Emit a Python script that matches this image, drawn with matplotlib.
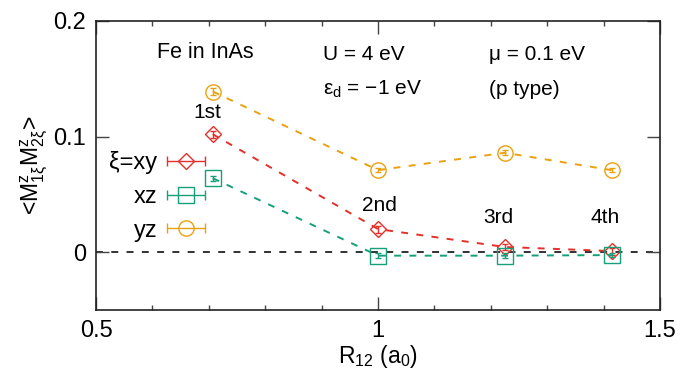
import matplotlib
matplotlib.use("Agg")
import matplotlib.pyplot as plt
from matplotlib.lines import Line2D
from matplotlib.collections import LineCollection
from matplotlib.container import ErrorbarContainer
from matplotlib.legend_handler import HandlerErrorbar
from matplotlib.ticker import MultipleLocator

plt.rcParams['font.family'] = ['Liberation Sans', 'DejaVu Sans']
plt.rcParams['mathtext.fontset'] = 'custom'
plt.rcParams['mathtext.rm'] = 'Liberation Sans'
plt.rcParams['mathtext.it'] = 'Liberation Sans:italic'
plt.rcParams['lines.scale_dashes'] = False

# Neighbour distances (units of lattice constant) and correlation values
r12 = [0.707, 1.0, 1.225, 1.414]
shell_labels = ["1st", "2nd", "3rd", "4th"]

corr_xy = [0.102, 0.020, 0.0045, 0.001]
corr_xz = [0.064, -0.003, -0.003, -0.0025]
corr_yz = [0.139, 0.071, 0.086, 0.071]

err_xy = [0.003, 0.003, 0.003, 0.003]
err_xz = [0.002, 0.002, 0.002, 0.002]
err_yz = [0.003, 0.002, 0.002, 0.002]

series_names = ["ξ=xy", "xz", "yz"]
colors = ["#e4302a", "#16a07a", "#e9a10f"]
markers = ["D", "s", "o"]
msizes = [7.8, 11, 11]

fig = plt.figure(figsize=(6.84, 3.73), dpi=100)
ax = fig.add_axes([0.1404, 0.1689, 0.8246, 0.7748])

ax.axhline(0, color="#222222", lw=1.3, ls=(0, (5, 6)), zorder=1)

handles = []
for y, e, c, m, ms, name in zip([corr_xy, corr_xz, corr_yz],
                                [err_xy, err_xz, err_yz],
                                colors, markers, msizes, series_names):
    ax.plot(r12, y, ls=(0, (5, 6)), lw=1.4, color=c, marker=m, ms=ms,
            mfc="none", mec=c, mew=1.0, zorder=3)
    ax.errorbar(r12, y, yerr=e, fmt="none", ecolor=c, elinewidth=1.0,
                capsize=2, capthick=1.0, zorder=3)
    # legend key with horizontal error bar
    mk = Line2D([], [], color=c, marker=m, ms=ms, mfc="none", mec=c,
                mew=1.0, ls="none")
    cap = Line2D([], [], color=c, marker="|", ms=7, mew=1.0, ls="none")
    bars = LineCollection([], colors=c, linewidths=1.0)
    cont = ErrorbarContainer((mk, (cap, cap), (bars,)), has_xerr=True,
                             has_yerr=False, label=name)
    handles.append(cont)

leg = ax.legend(handles=handles, labels=series_names, loc="upper right",
                bbox_to_anchor=(0.226, 0.607), frameon=False,
                markerfirst=False, fontsize=17, handlelength=1.75,
                handletextpad=0.35, labelspacing=0.5, borderpad=0.2,
                handler_map={ErrorbarContainer: HandlerErrorbar(xerr_size=0.8)})

# shell annotations
shell_pos = [(0.698, 0.121), (1.002, 0.040), (1.214, 0.030), (1.403, 0.030)]
for (tx, ty), s in zip(shell_pos, shell_labels):
    ax.text(tx, ty, s, ha="center", va="center", fontsize=15)

ax.text(0.693, 0.173, "Fe in InAs", ha="center", va="center", fontsize=15.5)
ax.text(0.903, 0.171, "U = 4 eV", ha="left", va="center", fontsize=15)
ax.text(0.903, 0.1405, "ε$_\\mathregular{d}$ = −1 eV", ha="left",
        va="center", fontsize=15)
ax.text(1.197, 0.171, "μ = 0.1 eV", ha="left", va="center", fontsize=15)
ax.text(1.197, 0.1405, "(p type)", ha="left", va="center", fontsize=15)

ax.set_xlim(0.5, 1.5)
ax.set_ylim(-0.05, 0.2)
ax.set_xticks([0.5, 1.0, 1.5])
ax.set_xticklabels(["0.5", "1", "1.5"])
ax.xaxis.set_minor_locator(MultipleLocator(0.1))
ax.set_yticks([0, 0.1, 0.2])
ax.set_yticklabels(["0", "0.1", "0.2"])

ax.tick_params(which="both", direction="in", top=True, right=True,
               labelsize=17, color="#444444", width=1.0, pad=7)
ax.tick_params(which="major", length=9.5)
ax.tick_params(which="minor", length=3.8)
for sp in ax.spines.values():
    sp.set_linewidth(1.2)
    sp.set_color("#222222")

ax.set_xlabel("R$_\\mathregular{12}$ (a$_\\mathregular{0}$)", fontsize=16.5,
              labelpad=1)
ax.set_ylabel("<$\\mathregular{M^z_{1ξ}M^z_{2ξ}}$>", fontsize=16.5, labelpad=2)

fig.savefig("out.png", dpi=100)
